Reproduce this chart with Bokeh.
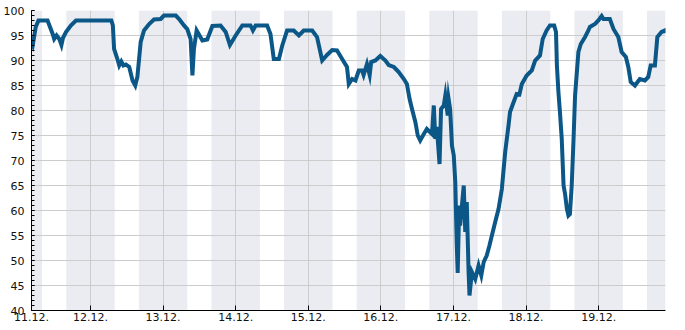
import pandas as pd
from bokeh.plotting import figure
from bokeh.models import Range1d, FixedTicker, SingleIntervalTicker, DatetimeTickFormatter
from bokeh.embed import file_html
from bokeh.resources import INLINE

# ---- data (hours since 11.12. 00:00, humidity %) ----
base_date = "2023-12-11"
hours = [4.5, 4.9, 5.9, 6.8, 7.6, 9.8, 11.5, 12.0, 12.8, 13.7, 14.4, 14.9, 15.9, 17.5, 19.2,
         30.9, 31.4, 31.8, 32.9, 33.5, 34.2, 34.9, 35.7, 36.8, 37.9, 38.8, 39.5, 40.6, 41.7,
         43.4, 45.0, 47.2, 48.3, 52.2, 53.3, 54.9, 56.0, 57.1, 57.7, 58.2, 59.1, 61.0, 62.6,
         64.3, 67.0, 68.7, 70.1, 72.0, 74.2, 76.9, 77.7, 78.6, 82.4, 83.5, 84.6, 86.3, 87.4,
         89.0, 91.2, 92.9, 94.5, 97.3, 98.9, 100.6, 102.2, 103.9, 105.5, 107.2, 108.8, 109.4,
         110.5, 111.6, 112.7, 113.8, 114.3, 115.4, 116.3, 116.8, 118.2, 119.8, 121.5, 122.6,
         124.3, 125.9, 127.6, 128.6, 129.5, 130.3, 131.4, 132.2, 133.0, 134.2, 135.2, 136.9,
         137.5, 138.0, 138.5, 139.4, 139.9, 140.8, 141.3, 142.1, 142.4, 142.9, 143.5, 144.1,
         144.6, 145.1, 145.4, 145.9, 146.2, 146.8, 147.4, 147.9, 148.4, 149.0, 149.3, 150.1,
         151.2, 152.3, 153.2, 154.0, 155.0, 155.9, 156.7, 157.8, 158.9, 160.0, 161.1, 162.2,
         162.7, 163.9, 164.9, 165.8, 166.6, 168.2, 169.9, 171.0, 172.6, 173.5, 174.8, 175.9,
         177.3, 177.9, 178.2, 178.7, 179.2, 179.8, 180.4, 180.9, 181.5, 182.0, 182.5, 183.1,
         183.7, 184.2, 184.8, 185.3, 186.1, 187.5, 188.6, 189.1, 190.8, 191.9, 193.0, 193.6,
         195.7, 196.9, 198.5, 199.6, 201.0, 201.8, 202.6, 204.0, 205.6, 207.3, 208.4, 209.2,
         210.6, 211.4, 212.8, 213.9, 214.1]
humidity = [93.5, 93, 96.7, 98, 98, 98, 95.3, 94.3, 95, 94.3, 93.1, 94.5, 95.7, 97, 98,
            98, 97, 92.3, 90.3, 89, 89.8, 89, 89.2, 88.7, 86, 85, 86.7, 93.7, 96,
            97.3, 98.2, 98.3, 99, 99, 98.3, 97, 96.3, 94.3, 87, 92.3, 96, 94, 94.2,
            96.9, 97, 95.7, 93.1, 95, 97, 97, 96, 97, 97, 95.3, 90.3, 90.3, 93,
            96, 96, 95, 96, 96, 94.7, 90, 91.1, 92.1, 92, 90.3, 88.7, 85.3,
            86.3, 86, 88, 88, 87.1, 89.3, 87.1, 89.7, 90, 90.9, 90, 89.1,
            88.7, 87.7, 86.3, 85.3, 82.3, 80.3, 77.7, 75, 74, 75.3, 76.3, 75.3,
            81, 74.3, 76.7, 69.3, 80.3, 81, 83, 79, 82.3, 80.3, 73, 71,
            65.7, 53, 47.5, 61, 57, 61, 65, 55.7, 61.7, 47.7, 43, 47.7,
            46.3, 49, 47, 49.7, 51, 53, 55, 57.7, 60.3, 64.3, 71.7, 77,
            79.7, 81.7, 83.3, 83.2, 85.3, 87, 88, 90, 91, 94.3, 96, 97,
            97, 95.7, 89, 83.7, 79.7, 74.3, 65, 63.3, 60.3, 59, 59.3, 65,
            74.3, 83, 87.7, 91.7, 93.3, 94.7, 96, 96.7, 97.3, 98, 98.9, 98.3,
            98.3, 96.3, 94.7, 91.7, 90.7, 88.7, 85.7, 85, 86.3, 86, 86.7, 89,
            89, 94.7, 95.7, 96, 95.5]
# night periods (hours since 11.12. 00:00): 16:00 - 08:00
night_start = [4.5, 16, 40, 64, 88, 112, 136, 160, 184, 208]
night_end = [8, 32, 56, 80, 104, 128, 152, 176, 200, 214.1]
tick_hours = [4.5, 24, 48, 72, 96, 120, 144, 168, 192]
y_min, y_max = 40, 100
x_start_h, x_end_h = 4.5, 214.1

t0 = pd.Timestamp(base_date)
def to_time(h):
    return t0 + pd.to_timedelta(h, unit="h")

times = [to_time(h) for h in hours]
n_left = [to_time(h) for h in night_start]
n_right = [to_time(h) for h in night_end]
tick_ms = [to_time(h).value / 1e6 for h in tick_hours]

p = figure(width=685, height=330, output_backend="svg", toolbar_location=None,
           x_axis_type="datetime",
           x_range=Range1d(to_time(x_start_h), to_time(x_end_h)),
           y_range=Range1d(y_min, y_max))
p.min_border_left = 30
p.min_border_right = 20
p.min_border_top = 10
p.min_border_bottom = 20
p.outline_line_color = None
p.background_fill_color = "white"
p.border_fill_color = "white"

p.quad(left=n_left, right=n_right, bottom=y_min, top=y_max,
       fill_color="#EBECF1", line_color=None, level="image")

p.line(times, humidity, line_width=4, line_color="#0B5787", line_join="miter")

# axes
xt = FixedTicker(ticks=tick_ms, minor_ticks=[])
p.xaxis.ticker = xt
p.xgrid.ticker = xt
fmt = "%d.%m."
p.xaxis.formatter = DatetimeTickFormatter(
    milliseconds=fmt, seconds=fmt, minsec=fmt, minutes=fmt, hourmin=fmt,
    hours=fmt, days=fmt, months=fmt, years=fmt)
p.yaxis.ticker = SingleIntervalTicker(interval=5, num_minor_ticks=5)

for ax in (p.xaxis[0], p.yaxis[0]):
    ax.axis_line_color = "black"
    ax.axis_line_width = 1
    ax.major_tick_line_color = "black"
    ax.minor_tick_line_color = "black"
    ax.major_label_text_font = "DejaVu Sans"
    ax.major_label_text_font_size = "11px"
    ax.major_label_text_color = "#111111"

p.xaxis.major_tick_in = 5
p.xaxis.major_tick_out = 0
p.xaxis.major_label_standoff = 2
p.yaxis.major_tick_in = 3
p.yaxis.major_tick_out = 0
p.yaxis.minor_tick_in = 3
p.yaxis.minor_tick_out = 0
p.yaxis.major_label_standoff = 7

p.grid.grid_line_color = "#CCCCCC"
p.grid.grid_line_width = 1

open("out.html", "w").write(file_html(p, INLINE))
